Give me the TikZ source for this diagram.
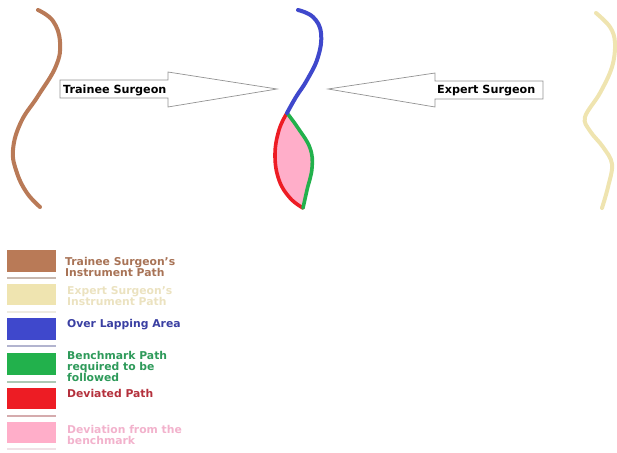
\documentclass[tikz,border=0pt]{standalone}
\usepackage{fontspec}
\setmainfont{DejaVu Sans}
\definecolor{pbrown}{HTML}{B97A57}
\definecolor{pbeige}{HTML}{EFE4B0}
\definecolor{pblue}{HTML}{3F48CC}
\definecolor{pgreen}{HTML}{22B14C}
\definecolor{pred}{HTML}{ED1C24}
\definecolor{ppink}{HTML}{FFAEC9}
\definecolor{tbrown}{HTML}{A87356}
\definecolor{tbeige}{HTML}{EBE2C0}
\definecolor{tblue}{HTML}{3A3FA2}
\definecolor{tgreen}{HTML}{2E9A5A}
\definecolor{tred}{HTML}{B4303C}
\definecolor{tpink}{HTML}{F2B2CC}
\tikzset{
  pathline/.style={line width=4pt, line cap=round, line join=round},
  bigarrow/.style={draw=gray!85, fill=white, line width=0.7pt},
  arrowtext/.style={font=\bfseries\fontsize{11.2}{12}\selectfont, anchor=base west, inner sep=0pt},
  legtext/.style={font=\bfseries\fontsize{10.8}{12}\selectfont, anchor=base west, inner sep=0pt},
  sep/.style={line width=1.2pt}
}
\begin{document}
\begin{tikzpicture}[x=1pt,y=-1pt]
\useasboundingbox (0,0) rectangle (617,452);
% brown trainee path
\draw[pathline, pbrown] plot[smooth, tension=0.7] coordinates {(38,10) (53,21) (60,42) (56,66) (38,96) (21,122) (13,150) (17,173) (27,193) (40,207)};
% beige expert path
\draw[pathline, pbeige] plot[smooth, tension=0.6] coordinates {(596,13) (610,27) (615,43) (612,67) (600,93) (585,117) (590,131) (603,147) (612,164) (608,187) (602,208)};
% leaf fill
\fill[ppink] plot[smooth, tension=0.7] coordinates {(287,113) (279,130) (275,155) (279,180) (290,198) (303,208)}
  -- plot[smooth, tension=0.7] coordinates {(303,208) (307,190) (312,168) (310,148) (298,128) (287,113)} -- cycle;
\draw[pathline, line width=3.6pt, pred] plot[smooth, tension=0.7] coordinates {(287,113) (279,130) (275,155) (279,180) (290,198) (303,208)};
\draw[pathline, line width=3.6pt, pgreen] plot[smooth, tension=0.7] coordinates {(287,113) (298,128) (310,148) (312,168) (307,190) (303,208)};
% blue overlapping path
\draw[pathline, pblue] plot[smooth, tension=0.7] coordinates {(298,10) (313,17) (321,33) (318,57) (307,80) (296,97) (287,113)};
% arrows
\draw[bigarrow] (60,80) -- (168,80) -- (168,72) -- (277,89) -- (168,107) -- (168,98) -- (60,98) -- cycle;
\draw[bigarrow] (543,81) -- (435,81) -- (435,73) -- (328,89) -- (435,107) -- (435,99) -- (543,99) -- cycle;
\node[arrowtext] (trainee) at (63,93) {Trainee Surgeon};
\node[arrowtext] (expert) at (437,93) {Expert Surgeon};
% legend swatches
\fill[pbrown] (7,250) rectangle (56,272);
\fill[pbeige] (7,284) rectangle (56,305);
\fill[pblue] (7,318) rectangle (56,340);
\fill[pgreen] (7,353) rectangle (56,375);
\fill[pred] (7,388) rectangle (56,409);
\fill[ppink] (7,422) rectangle (56,443);
% separators
\draw[sep, pbrown!45!gray!55!white] (7,278) -- (56,278);
\draw[sep, pbeige!60!gray!30!white] (7,312) -- (56,312);
\draw[sep, pblue!40!gray!50!white] (7,346) -- (56,346);
\draw[sep, pgreen!40!gray!50!white] (7,382) -- (56,382);
\draw[sep, pred!40!gray!50!white] (7,416) -- (56,416);
\draw[sep, ppink!60!gray!30!white] (7,449) -- (56,449);
% legend text
\node[legtext, text=tbrown] (l1a) at (65,265) {Trainee Surgeon's};
\node[legtext, text=tbrown] (l1b) at (65,276) {Instrument Path};
\node[legtext, text=tbeige] (l2a) at (67,294) {Expert Surgeon's};
\node[legtext, text=tbeige] (l2b) at (67,305) {Instrument Path};
\node[legtext, text=tblue] (l3) at (67,327) {Over Lapping Area};
\node[legtext, text=tgreen] (l4a) at (67,359.5) {Benchmark Path};
\node[legtext, text=tgreen] (l4b) at (67,370.5) {required to be};
\node[legtext, text=tgreen] (l4c) at (67,381.5) {followed};
\node[legtext, text=tred] (l5) at (67,397) {Deviated Path};
\node[legtext, text=tpink] (l6a) at (67,433) {Deviation from the};
\node[legtext, text=tpink] (l6b) at (67,444) {benchmark};
\end{tikzpicture}
\end{document}
